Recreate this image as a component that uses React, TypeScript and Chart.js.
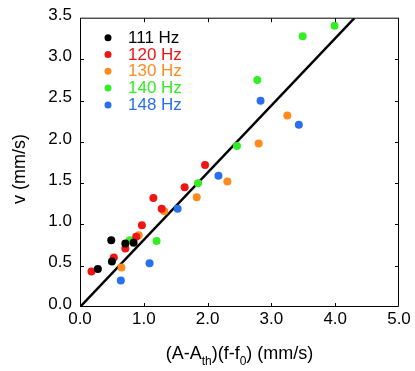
import React, { useEffect, useRef } from "react";
import { Chart, registerables } from "chart.js";

Chart.register(...registerables);

const seriesLabels = ["111 Hz", "120 Hz", "130 Hz", "140 Hz", "148 Hz"];
const seriesColors = ["#000000", "#f01414", "#ff8a1e", "#33ee22", "#2a6ff0"];

const x111 = [0.28, 0.49, 0.5, 0.71, 0.84];
const y111 = [0.46, 0.81, 0.55, 0.77, 0.78];

const x120 = [0.18, 0.53, 0.71, 0.88, 0.97, 1.15, 1.28, 1.64, 1.96];
const y120 = [0.43, 0.6, 0.71, 0.85, 0.99, 1.32, 1.19, 1.45, 1.72];

const x130 = [0.65, 0.92, 1.32, 1.83, 2.31, 2.8, 3.25];
const y130 = [0.48, 0.87, 1.16, 1.33, 1.52, 1.98, 2.32];

const x140 = [0.78, 1.2, 1.85, 2.46, 2.78, 3.49, 3.99];
const y140 = [0.81, 0.8, 1.5, 1.95, 2.75, 3.28, 3.41];

const x148 = [0.64, 1.09, 1.53, 2.17, 2.83, 3.43];
const y148 = [0.32, 0.53, 1.19, 1.59, 2.5, 2.21];

const fitX = [0, 4.3];
const fitY = [0, 3.5];

const xTickValues = [0, 1, 2, 3, 4, 5];
const yTickValues = [0, 0.5, 1, 1.5, 2, 2.5, 3, 3.5];

const seriesX = [x111, x120, x130, x140, x148];
const seriesY = [y111, y120, y130, y140, y148];

const FONT = "'Liberation Sans', Arial, Helvetica, sans-serif";

const decorPlugin = {
  id: "decor",
  afterDraw(chart: any) {
    const ctx = chart.ctx as CanvasRenderingContext2D;
    const a = chart.chartArea;
    const xs = chart.scales.x;
    const ys = chart.scales.y;
    ctx.save();
    // frame
    ctx.strokeStyle = "#000";
    ctx.lineWidth = 1;
    ctx.beginPath();
    ctx.moveTo(a.left + 0.5, a.top);
    ctx.lineTo(a.left + 0.5, a.bottom - 0.5);
    ctx.lineTo(a.right - 0.5, a.bottom - 0.5);
    ctx.lineTo(a.right - 0.5, a.top);
    ctx.stroke();
    ctx.beginPath();
    ctx.moveTo(a.left, a.top);
    ctx.lineTo(a.right, a.top);
    ctx.stroke();
    // inward ticks
    const tl = 4;
    ctx.beginPath();
    xTickValues.forEach((v) => {
      if (v === xs.min || v === xs.max) return;
      const px = Math.round(xs.getPixelForValue(v)) + 0.5;
      ctx.moveTo(px, a.bottom);
      ctx.lineTo(px, a.bottom - tl);
      ctx.moveTo(px, a.top);
      ctx.lineTo(px, a.top + tl);
    });
    yTickValues.forEach((v) => {
      if (v === ys.min || v === ys.max) return;
      const py = Math.round(ys.getPixelForValue(v)) + 0.5;
      ctx.moveTo(a.left, py);
      ctx.lineTo(a.left + tl, py);
      ctx.moveTo(a.right, py);
      ctx.lineTo(a.right - tl, py);
    });
    ctx.stroke();

    // legend
    const lx = a.left + 28;
    const ly0 = a.top + 19.5;
    const step = 16.8;
    ctx.font = `17px ${FONT}`;
    ctx.textBaseline = "middle";
    ctx.textAlign = "left";
    seriesLabels.forEach((lab, i) => {
      const y = ly0 + i * step;
      ctx.fillStyle = seriesColors[i];
      ctx.beginPath();
      ctx.arc(lx, y, 3.5, 0, Math.PI * 2);
      ctx.fill();
      ctx.fillText(lab, lx + 20, y + 0.5);
    });

    // x title with subscripts
    const mainF = `18px ${FONT}`;
    const subF = `12px ${FONT}`;
    const parts: [string, boolean][] = [
      ["(A-A", false],
      ["th", true],
      [")(f-f", false],
      ["0", true],
      [") (mm/s)", false],
    ];
    let total = 0;
    parts.forEach(([t, s]) => {
      ctx.font = s ? subF : mainF;
      total += ctx.measureText(t).width;
    });
    let cx = (a.left + a.right) / 2 - total / 2;
    const base = 359;
    ctx.fillStyle = "#000";
    ctx.textBaseline = "alphabetic";
    parts.forEach(([t, s]) => {
      ctx.font = s ? subF : mainF;
      ctx.fillText(t, cx, s ? base + 6 : base);
      cx += ctx.measureText(t).width;
    });

    // y title
    ctx.save();
    ctx.translate(20, 169);
    ctx.rotate(-Math.PI / 2);
    ctx.font = mainF;
    ctx.textAlign = "center";
    ctx.textBaseline = "middle";
    ctx.fillText("v (mm/s)", 0, 0);
    ctx.restore();

    ctx.restore();
  },
};

export default function App() {
  const ref = useRef<HTMLCanvasElement | null>(null);
  useEffect(() => {
    if (!ref.current) return;
    const datasets: any[] = [
      {
        type: "line",
        label: "fit",
        data: fitX.map((x, i) => ({ x, y: fitY[i] })),
        borderColor: "#000",
        borderWidth: 2.5,
        pointRadius: 0,
        fill: false,
        order: 10,
      },
      ...seriesLabels.map((lab, i) => ({
        type: "scatter",
        label: lab,
        data: seriesX[i].map((x, j) => ({ x, y: seriesY[i][j] })),
        backgroundColor: seriesColors[i],
        borderColor: seriesColors[i],
        borderWidth: 0,
        pointRadius: 4,
        order: 1,
      })),
    ];
    const chart = new Chart(ref.current, {
      type: "scatter",
      data: { datasets },
      options: {
        animation: false,
        responsive: false,
        maintainAspectRatio: false,
        devicePixelRatio: 1,
        layout: { padding: { left: 0, right: 16, top: 14, bottom: 0 } },
        plugins: { legend: { display: false }, tooltip: { enabled: false } },
        scales: {
          x: {
            type: "linear",
            min: 0,
            max: 5,
            afterBuildTicks: (s: any) => {
              s.ticks = xTickValues.map((v) => ({ value: v }));
            },
            afterFit: (s: any) => {
              s.height = 64;
            },
            ticks: {
              padding: 2,
              color: "#000",
              font: { family: FONT, size: 17 },
              callback: (v: any) => Number(v).toFixed(1),
            },
            grid: { display: false, drawTicks: false },
            border: { display: false },
          },
          y: {
            type: "linear",
            min: 0,
            max: 3.5,
            afterBuildTicks: (s: any) => {
              s.ticks = yTickValues.map((v) => ({ value: v }));
            },
            afterFit: (s: any) => {
              s.width = 80;
            },
            ticks: {
              padding: 8,
              labelOffset: -3,
              color: "#000",
              font: { family: FONT, size: 17 },
              callback: (v: any) => Number(v).toFixed(1),
            },
            grid: { display: false, drawTicks: false },
            border: { display: false },
          },
        },
      },
      plugins: [decorPlugin],
    });
    return () => chart.destroy();
  }, []);
  return (
    <div style={{ position: "fixed", left: 0, top: 0, width: 415, height: 371, background: "#fff" }}>
      <canvas ref={ref} width={415} height={371} style={{ width: 415, height: 371, display: "block" }} />
    </div>
  );
}
